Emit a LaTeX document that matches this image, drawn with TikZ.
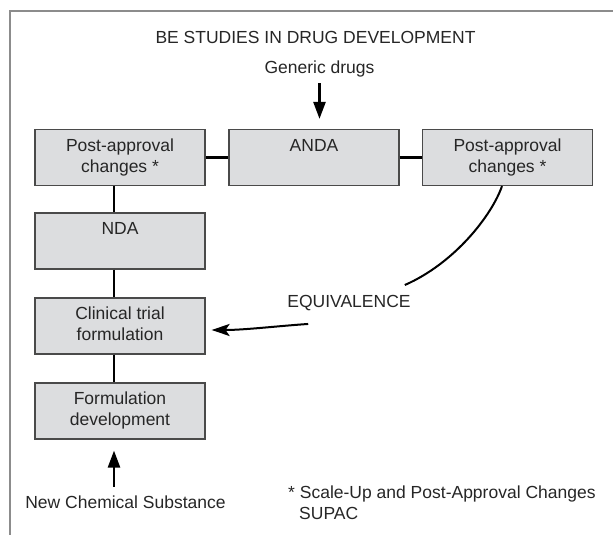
\documentclass[tikz,border=0pt]{standalone}
\usepackage{fontspec}
\setmainfont{Liberation Sans}
\usetikzlibrary{arrows.meta}
\definecolor{boxfill}{HTML}{DCDDDF}
\definecolor{boxline}{HTML}{4A4A4A}
\definecolor{framecol}{HTML}{8C8C8C}
\definecolor{txt}{HTML}{262626}
\begin{document}
\begin{tikzpicture}[x=1pt,y=1pt,
  every node/.style={font=\fontsize{17.5}{21}\selectfont, text=txt},
  box/.style={draw=boxline, line width=1.2pt, fill=boxfill, minimum width=170pt, minimum height=56pt, align=center, inner sep=0pt},
  lbl/.style={inner sep=0pt},
  conn/.style={line width=2.5pt, black},
  arr/.style={line width=2.5pt, black, -{Triangle[length=17pt,width=12pt]}},
  carr/.style={line width=2pt, black, -{Stealth[length=18pt,width=12pt,inset=4pt]}},
  curv/.style={line width=2pt, black}
]
\useasboundingbox (0,0) rectangle (613,535);
\draw[framecol, line width=2pt] (9.5,0) -- (9.5,524) -- (613,524);

\node[lbl] (title) at (315.5,498) {BE STUDIES IN DRUG DEVELOPMENT};
\node[lbl] (gen) at (319.5,466) {Generic drugs};
\node[box] (pa1) at (120,377.5) {Post-approval\strut\\changes *\strut};
\node[box] (anda) at (314,377.5) {ANDA\strut\\\strut};
\node[box] (pa2) at (507.5,377.5) {Post-approval\strut\\changes *\strut};
\node[box] (nda) at (120,294) {NDA\strut\\\strut};
\node[box] (ct) at (120,209) {Clinical trial\strut\\formulation\strut};
\node[box] (fd) at (120,124) {Formulation\strut\\development\strut};
\node[lbl] (eq) at (349,232) {EQUIVALENCE};
\node[lbl] (ncs) at (125.5,33) {New Chemical Substance};
\node[lbl, align=left, anchor=west] (note) at (288,32.5) {* Scale-Up and Post-Approval Changes\\\hspace*{11pt}SUPAC};

\draw[conn] (pa1.east) -- (anda.west);
\draw[conn] (anda.east) -- (pa2.west);
\draw[conn] ([xshift=-6pt]pa1.south) -- ([xshift=-6pt]nda.north);
\draw[conn] ([xshift=-6pt]nda.south) -- ([xshift=-6pt]ct.north);
\draw[conn] ([xshift=-6pt]ct.south) -- ([xshift=-6pt]fd.north);

\draw[arr] ([yshift=-6pt]gen.south) -- ([yshift=10pt]gen.south |- anda.north);
\coordinate (fdx) at ([xshift=-6pt]fd.south);
\draw[arr] ([yshift=8.5pt]ncs.north -| fdx) -- ([yshift=-11pt]fdx);

\draw[curv] ([xshift=-5.5pt]pa2.south) .. controls (492,320) and (455,272) .. ([shift={(-6pt,10pt)}]eq.north east);
\draw[carr] ([shift={(21pt,-13pt)}]eq.south west) .. controls (278,209) and (245,205) .. ([shift={(6pt,-4pt)}]ct.east);
\end{tikzpicture}
\end{document}
